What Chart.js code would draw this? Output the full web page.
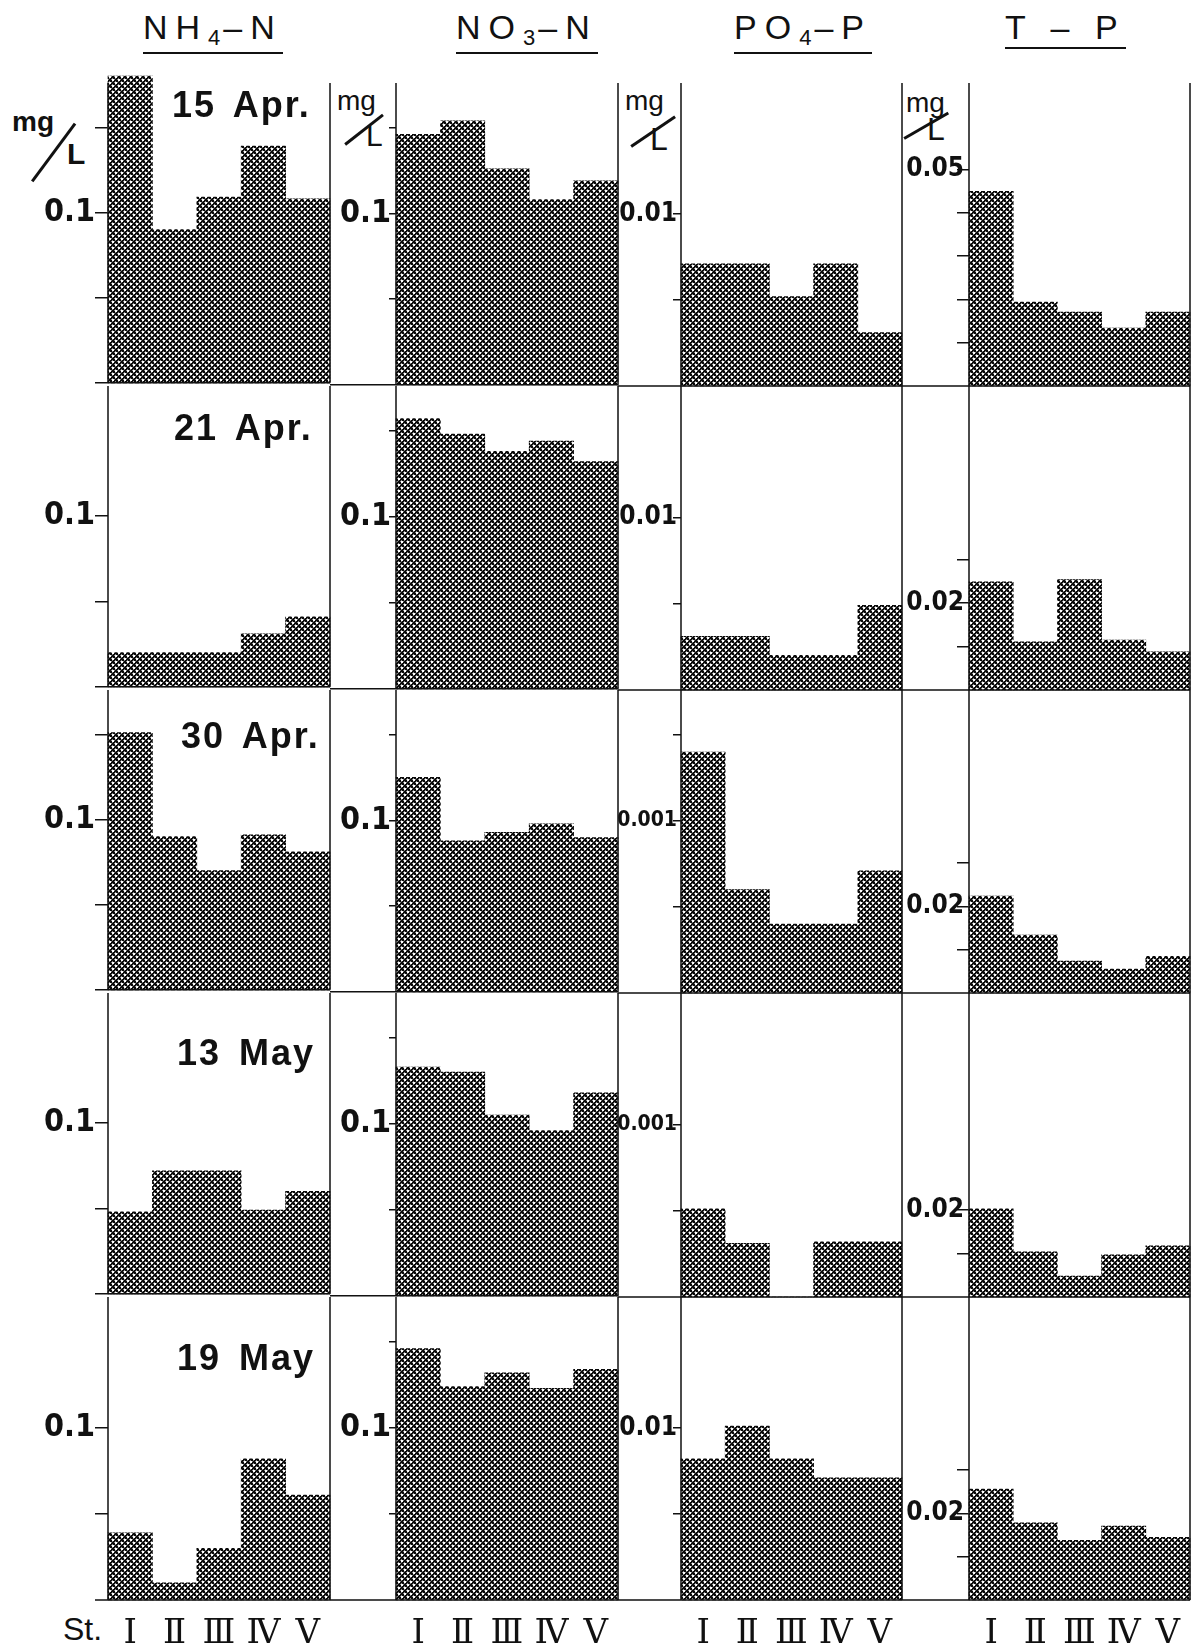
<!DOCTYPE html>
<html>
<head>
<meta charset="utf-8">
<script src="https://cdn.jsdelivr.net/npm/chart.js@4.4.1/dist/chart.umd.min.js"></script>
<style>
    body { margin: 0; background: #fff; width: 1196px; height: 1651px; position: relative; overflow: hidden; color: #111; font-family: 'Liberation Sans', Arial, sans-serif; }
    canvas { position: absolute; }
    .txt { position: absolute; white-space: nowrap; line-height: 1; }
    .title { font-size: 34px; letter-spacing: 8px; padding-bottom: 3px; border-bottom: 2px solid #111; }
    .title sub { font-size: 22px; vertical-align: -6px; letter-spacing: 3px; }
    .date { font-size: 36px; font-weight: bold; letter-spacing: 2px; word-spacing: 6px; }
    .slash { position: absolute; height: 2.5px; background: #111; transform-origin: 0 50%; }
</style>
</head>
<body>

<div class="txt title" style="left:143px; top:10px;">NH<sub>4</sub>–N</div>
<div class="txt title" style="left:456px; top:10px;">NO<sub>3</sub>–N</div>
<div class="txt title" style="left:734px; top:10px;">PO<sub>4</sub>–P</div>
<div class="txt title" style="left:1005px; top:10px;">T – P</div>

<!-- mg/L unit marks -->
<div class="txt" style="left:12px; top:108px; font-size:28px; font-weight:bold;">mg</div>
<div class="txt" style="left:67px; top:139px; font-size:30px; font-weight:bold;">L</div>
<div class="slash" style="left:32px; top:180px; width:72px; transform:rotate(-53.5deg);"></div>

<div class="txt" style="left:337px; top:87px; font-size:28px;">mg</div>
<div class="txt" style="left:366px; top:121px; font-size:30px;">L</div>
<div class="slash" style="left:345px; top:143px; width:48px; transform:rotate(-38deg);"></div>

<div class="txt" style="left:625px; top:87px; font-size:28px;">mg</div>
<div class="txt" style="left:650px; top:123px; font-size:32px;">L</div>
<div class="slash" style="left:631px; top:145px; width:53px; transform:rotate(-34deg);"></div>

<div class="txt" style="left:906px; top:89px; font-size:28px;">mg</div>
<div class="txt" style="left:927px; top:113px; font-size:32px;">L</div>
<div class="slash" style="left:904px; top:137px; width:51px; transform:rotate(-30deg);"></div>

<div class="txt" style="left:63px; top:1613px; font-size:32px;">St.</div>

<div id="charts"></div>

<script>
// ===== Data =====
const stations = ['Ⅰ', 'Ⅱ', 'Ⅲ', 'Ⅳ', 'Ⅴ'];
const dates = ['15 Apr.', '21 Apr.', '30 Apr.', '13 May', '19 May'];

// NH4-N (mg/L), one row per sampling date, stations I..V
const nh4Values = [
    [0.180, 0.090, 0.109, 0.139, 0.108],
    [0.020, 0.020, 0.020, 0.031, 0.041],
    [0.151, 0.090, 0.070, 0.091, 0.081],
    [0.048, 0.072, 0.072, 0.049, 0.060],
    [0.039, 0.010, 0.030, 0.082, 0.061]
];
// NO3-N (mg/L)
const no3Values = [
    [0.146, 0.154, 0.126, 0.108, 0.119],
    [0.157, 0.148, 0.138, 0.144, 0.132],
    [0.125, 0.088, 0.093, 0.098, 0.090],
    [0.133, 0.130, 0.105, 0.096, 0.118],
    [0.146, 0.124, 0.132, 0.123, 0.134]
];
// PO4-P (mg/L)
const po4Values = [
    [0.0071, 0.0071, 0.0052, 0.0071, 0.0031],
    [0.0031, 0.0031, 0.0020, 0.0020, 0.0049],
    [0.0140, 0.0060, 0.0040, 0.0040, 0.0071],
    [0.0051, 0.0031, 0, 0.0032, 0.0032],
    [0.0082, 0.0101, 0.0082, 0.0071, 0.0071]
];
// T-P (mg/L)
const tpValues = [
    [0.0450, 0.0194, 0.0171, 0.0134, 0.0171],
    [0.0249, 0.0111, 0.0254, 0.0115, 0.0088],
    [0.0224, 0.0134, 0.0074, 0.0055, 0.0085],
    [0.0203, 0.0104, 0.0048, 0.0097, 0.0118],
    [0.0256, 0.0178, 0.0138, 0.0171, 0.0145]
];

// tick marks per panel and the one labelled tick
const nh4Ticks = [[0.05, 0.1, 0.15], [0.05, 0.1], [0.05, 0.1, 0.15], [0.05, 0.1], [0.05, 0.1]];
const no3Ticks = [[0.05, 0.1, 0.15], [0.05, 0.1, 0.15], [0.05, 0.1, 0.15], [0.05, 0.1, 0.15], [0.05, 0.1, 0.15]];
const po4Ticks = [[0.005, 0.01], [0.005, 0.01], [0.005, 0.01, 0.015], [0.005, 0.01], [0.005, 0.01]];
const tpTicks = [[0.01, 0.02, 0.03, 0.04, 0.05], [0.01, 0.02, 0.03], [0.01, 0.02, 0.03], [0.01, 0.02], [0.01, 0.02, 0.03]];

const nh4LabelAt = [0.1, 0.1, 0.1, 0.1, 0.1];
const nh4Labels = ['0.1', '0.1', '0.1', '0.1', '0.1'];
const no3LabelAt = [0.1, 0.1, 0.1, 0.1, 0.1];
const no3Labels = ['0.1', '0.1', '0.1', '0.1', '0.1'];
const po4LabelAt = [0.01, 0.01, 0.01, 0.01, 0.01];
const po4Labels = ['0.01', '0.01', '0.001', '0.001', '0.01'];
const tpLabelAt = [0.05, 0.02, 0.02, 0.02, 0.02];
const tpLabels = ['0.05', '0.02', '0.02', '0.02', '0.02'];

const axisMax = [0.176, 0.176, 0.0176, 0.07];

// ===== Layout =====
const ROW_TOP = [83, 386, 690, 993, 1297];
const ROW_BOTTOM = [386, 690, 993, 1297, 1600];
const COL_LEFT = [108, 396, 681, 969];
const COL_RIGHT = [330, 618, 902, 1190];
const CANVAS_LEFT = [0, 310, 598, 882];
const TICK_LEN = [13, 7, 8, 12];
const LABEL_PAD = [0, -2, -4, -7];
const LABEL_SIZE = [32, 32, 26, 26];
const PAD_TOP = 20;
const PAD_RIGHT = 3;

const columns = [
    { values: nh4Values, ticks: nh4Ticks, labelAt: nh4LabelAt, labels: nh4Labels },
    { values: no3Values, ticks: no3Ticks, labelAt: no3LabelAt, labels: no3Labels },
    { values: po4Values, ticks: po4Ticks, labelAt: po4LabelAt, labels: po4Labels },
    { values: tpValues, ticks: tpTicks, labelAt: tpLabelAt, labels: tpLabels }
];

// ===== Dotted screen fill (white dots on black, diagonal lattice) =====
function makeDotTile() {
    const tile = document.createElement('canvas');
    tile.width = 6;
    tile.height = 6;
    const g = tile.getContext('2d');
    g.fillStyle = '#0a0a0a';
    g.fillRect(0, 0, 6, 6);
    g.fillStyle = '#fff';
    g.fillRect(1, 1, 2, 2);
    g.fillRect(4, 4, 2, 2);
    g.fillStyle = '#888';
    [[1, 0], [0, 1], [3, 1], [1, 3], [4, 3], [3, 4], [4, 0], [0, 4]].forEach(([x, y]) => g.fillRect(x, y, 1, 1));
    return tile;
}
const dotTile = makeDotTile();

// ===== Frame lines (axis, right edge, row base line) =====
const framePlugin = {
    id: 'frame',
    afterDraw(chart, args, opts) {
        const ctx = chart.ctx;
        const a = chart.chartArea;
        ctx.save();
        ctx.strokeStyle = '#111';
        ctx.lineWidth = 1.5;
        ctx.beginPath();
        ctx.moveTo(a.left, a.top);
        ctx.lineTo(a.left, a.bottom);
        ctx.moveTo(a.right, a.top);
        ctx.lineTo(a.right, a.bottom);
        ctx.moveTo(opts.baseFrom, a.bottom);
        ctx.lineTo(a.right, a.bottom);
        ctx.stroke();
        ctx.restore();
    }
};

// ===== Build panels =====
const holder = document.getElementById('charts');

columns.forEach((col, c) => {
    col.values.forEach((rowValues, r) => {
        const isBottom = r === ROW_BOTTOM.length - 1;
        const xHeight = isBottom ? 50 : 16;
        const yWidth = COL_LEFT[c] - CANVAS_LEFT[c];
        const width = COL_RIGHT[c] - CANVAS_LEFT[c] + PAD_RIGHT;
        const height = ROW_BOTTOM[r] - ROW_TOP[r] + PAD_TOP + xHeight;

        const cv = document.createElement('canvas');
        cv.width = width;
        cv.height = height;
        cv.style.left = CANVAS_LEFT[c] + 'px';
        cv.style.top = (ROW_TOP[r] - PAD_TOP) + 'px';
        cv.style.width = width + 'px';
        cv.style.height = height + 'px';
        holder.appendChild(cv);

        const tickValues = col.ticks[r];
        const labelAt = col.labelAt[r];
        const labelText = col.labels[r];
        const labelSize = labelText.length > 4 ? 21 : LABEL_SIZE[c];

        new Chart(cv, {
            type: 'bar',
            data: {
                labels: stations,
                datasets: [{
                    data: rowValues,
                    backgroundColor: ctx => ctx.chart.ctx.createPattern(dotTile, 'repeat'),
                    borderWidth: 0,
                    categoryPercentage: 1,
                    barPercentage: 1,
                    clip: false
                }]
            },
            options: {
                responsive: false,
                animation: false,
                events: [],
                layout: { padding: { top: PAD_TOP, right: PAD_RIGHT, left: 0, bottom: 0 } },
                plugins: {
                    legend: { display: false },
                    tooltip: { enabled: false },
                    frame: { baseFrom: c === 0 ? 95 : COL_RIGHT[c - 1] - CANVAS_LEFT[c] }
                },
                scales: {
                    x: {
                        grid: { display: false },
                        border: { display: false },
                        ticks: {
                            display: isBottom,
                            color: '#111',
                            padding: 6,
                            maxRotation: 0,
                            autoSkip: false,
                            font: { family: "'DejaVu Serif', serif", size: 34 }
                        },
                        afterFit: scale => { scale.height = xHeight; }
                    },
                    y: {
                        min: 0,
                        max: axisMax[c],
                        grid: { drawOnChartArea: false, tickLength: TICK_LEN[c], color: '#111', lineWidth: 1.5 },
                        border: { display: false },
                        ticks: {
                            color: '#111',
                            padding: LABEL_PAD[c],
                            font: { family: "'DejaVu Sans Condensed', sans-serif", size: labelSize, weight: 'bold' },
                            callback: value => (Math.abs(value - labelAt) < 1e-9 ? labelText : '')
                        },
                        afterBuildTicks: scale => { scale.ticks = tickValues.map(v => ({ value: v })); },
                        afterFit: scale => { scale.width = yWidth; }
                    }
                }
            },
            plugins: [framePlugin]
        });
    });
});

// ===== Date captions in the NH4-N column =====
const DATE_POS = [[172, 87], [174, 410], [181, 718], [177, 1035], [177, 1340]];
dates.forEach((d, i) => {
    const el = document.createElement('div');
    el.className = 'txt date';
    el.style.left = DATE_POS[i][0] + 'px';
    el.style.top = DATE_POS[i][1] + 'px';
    el.textContent = d;
    document.body.appendChild(el);
});
</script>
</body>
</html>
